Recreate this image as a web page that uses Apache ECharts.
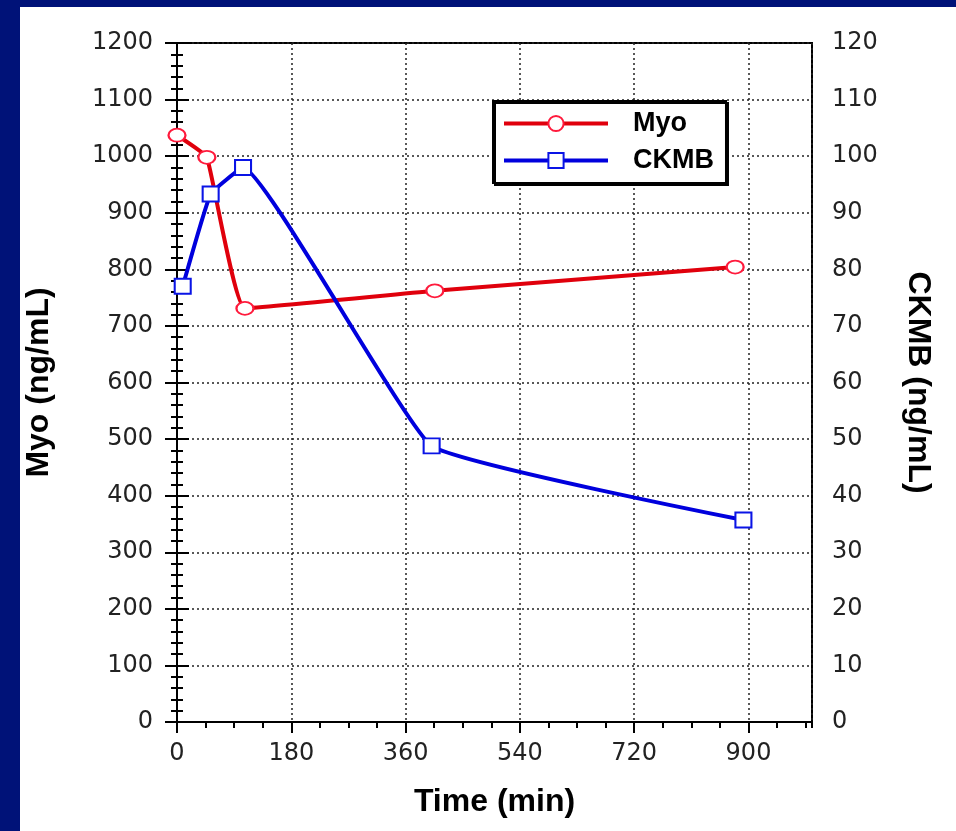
<!DOCTYPE html>
<html>
<head>
<meta charset="utf-8">
<script src="https://cdn.jsdelivr.net/npm/echarts@6/dist/echarts.min.js"></script>
<style>
  html, body { margin: 0; padding: 0; }
  body { width: 956px; height: 831px; background: #001278; position: relative; overflow: hidden; }
  .panel { position: absolute; left: 20px; top: 7px; right: 0; bottom: 0; background: #fff; }
  #chart { position: absolute; left: 0; top: 0; width: 956px; height: 831px; }
</style>
</head>
<body>
<div class="panel"></div>
<div id="chart"></div>
<script>
// time (min) of each sample
const myoTime = [0, 47, 107, 406, 879]
const myoValues = [1037, 998, 731, 762, 804]
const ckmbTime = [9, 53, 104, 401, 892]
const ckmbValues = [77, 93.3, 98, 48.8, 35.7]

const timeTicks = [0, 180, 360, 540, 720, 900]
const seriesNames = ['Myo', 'CKMB']

const chart = echarts.init(document.getElementById('chart'), null, { renderer: 'canvas' })

const tickFont = { fontFamily: 'DejaVu Sans', fontSize: 24, color: '#222' }
const nameFont = { fontFamily: 'Liberation Sans', fontSize: 32, fontWeight: 'bold', color: '#000' }
const dotted = { color: '#222', width: 1.5, type: [2, 3] }

chart.setOption({
  animation: false,
  backgroundColor: 'transparent',
  grid: {
    left: 177, top: 43, right: 144, bottom: 109,
    show: true, borderColor: '#000', borderWidth: 2,
  },
  legend: {
    orient: 'vertical',
    left: 493, top: 101,
    padding: [9, 12, 9, 9],
    itemWidth: 104, itemHeight: 19, itemGap: 10,
    borderColor: '#000', borderWidth: 2,
    backgroundColor: '#fff',
    shadowColor: '#000', shadowOffsetX: 2, shadowOffsetY: 2, shadowBlur: 0,
    lineStyle: { width: 4 },
    textStyle: { fontFamily: 'Liberation Sans', fontSize: 27, fontWeight: 'bold', color: '#000', padding: [0, 0, 0, 20] },
    data: seriesNames,
  },
  xAxis: [
    {
      type: 'value', min: 0, max: 1000, interval: 180,
      name: 'Time (min)', nameLocation: 'middle', nameGap: 64,
      nameTextStyle: nameFont,
      axisLine: { lineStyle: { color: '#000', width: 2 } },
      axisTick: { length: 11, lineStyle: { color: '#000', width: 2 } },
      axisLabel: { ...tickFont, margin: 20, showMaxLabel: false,
        formatter: v => timeTicks.includes(v) ? String(v) : '' },
      splitLine: { show: true, lineStyle: dotted },
    },
    {
      // minor ticks every 45 min
      type: 'value', min: 0, max: 1000, interval: 45, position: 'bottom',
      axisLine: { show: false },
      axisTick: { length: 6, lineStyle: { color: '#000', width: 2 } },
      axisLabel: { show: false },
      splitLine: { show: false },
    },
  ],
  yAxis: [
    {
      type: 'value', min: 0, max: 1200, interval: 100, position: 'left',
      name: 'Myo (ng/mL)', nameLocation: 'middle', nameGap: 122,
      nameTextStyle: nameFont,
      axisLine: { show: true, lineStyle: { color: '#000', width: 2 } },
      axisTick: { length: 12, lineStyle: { color: '#000', width: 2 } },
      minorTick: { show: true, splitNumber: 5, length: 6, lineStyle: { color: '#000', width: 2 } },
      axisLabel: { ...tickFont, margin: 24, formatter: v => String(v) },
      splitLine: { show: true, lineStyle: dotted },
    },
    {
      type: 'value', min: 0, max: 120, interval: 10, position: 'right',
      name: 'CKMB (ng/mL)', nameLocation: 'middle', nameGap: 90, nameRotate: -90,
      nameTextStyle: nameFont,
      axisLine: { show: true, lineStyle: { color: '#000', width: 2 } },
      axisTick: { length: 12, lineStyle: { color: '#000', width: 2 } },
      minorTick: { show: true, splitNumber: 5, length: 6, lineStyle: { color: '#000', width: 2 } },
      axisLabel: { ...tickFont, margin: 20, formatter: v => String(v) },
      splitLine: { show: false },
    },
  ],
  series: [
    {
      name: seriesNames[0], type: 'line', xAxisIndex: 0, yAxisIndex: 0,
      data: myoTime.map((t, i) => [t, myoValues[i]]),
      smooth: 0.1,
      symbol: 'circle', symbolSize: [17, 13],
      lineStyle: { color: '#e0000c', width: 4 },
      itemStyle: { color: '#fff', borderColor: '#ff1a3c', borderWidth: 2 },
      z: 3,
    },
    {
      name: seriesNames[1], type: 'line', xAxisIndex: 0, yAxisIndex: 1,
      data: ckmbTime.map((t, i) => [t, ckmbValues[i]]),
      smooth: 0.1,
      symbol: 'rect', symbolSize: [16, 15],
      lineStyle: { color: '#0000dd', width: 4 },
      itemStyle: { color: '#fff', borderColor: '#0a14e6', borderWidth: 2 },
      z: 4,
    },
  ],
})
</script>
</body>
</html>
